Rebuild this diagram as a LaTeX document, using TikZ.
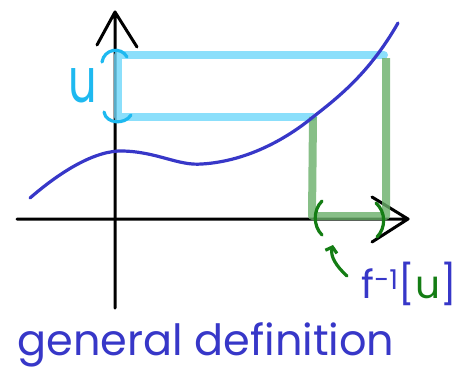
\documentclass[tikz,border=0pt]{standalone}
\usepackage{fontspec}
\setmainfont{Poppins}
\usetikzlibrary{arrows.meta}
\definecolor{penblue}{RGB}{55,55,200}
\definecolor{skyblue}{RGB}{30,185,240}
\definecolor{bandblue}{RGB}{110,215,250}
\definecolor{bandgreen}{RGB}{105,175,105}
\definecolor{inkgreen}{RGB}{20,125,20}

\begin{document}
\begin{tikzpicture}[x=1pt,y=-1pt,
  axis/.style={line width=3pt,line cap=round,line join=round},
  band/.style={line width=8pt,line join=round,opacity=0.8},
  ink/.style={line width=3.2pt,line cap=round}]
\useasboundingbox (0,0) rectangle (462,369);
% points
\coordinate (xstart) at (17,219);
\coordinate (xend) at (408,219);
\coordinate (ystart) at (115,308);
\coordinate (yend) at (115,12);
\coordinate (ulow) at (313,117);
\coordinate (uhigh) at (384,55);
% axes
\draw[axis] (xstart) -- (xend) (xend) -- ++(-36,-22) (xend) -- ++(-36,23);
\draw[axis] (ystart) -- (yend) (yend) -- ++(-18,33) (yend) -- ++(22,35);
% the set u and its preimage
\draw[band,bandblue,line cap=round] (uhigh) -- (118,55) -- (118,117) -- (ulow);
\draw[band,bandgreen] (ulow) -- (312,216) -- (386,216) -- (386,58);
% graph of f
\draw[ink,penblue] (30,198) .. controls (60,172) and (95,150) .. (123,151)
  .. controls (158,152) and (178,166) .. (202,164)
  .. controls (250,161) and (290,136) .. (ulow)
  .. controls (340,96) and (370,72) .. (398,23);
% brackets
\draw[ink,skyblue] (102,62) .. controls (104,49) and (121,46) .. (127,57);
\draw[ink,skyblue] (104,112) .. controls (106,124) and (125,125) .. (131,115);
\draw[ink,inkgreen] (322,201) .. controls (313,210) and (313,226) .. (322,235);
\draw[ink,inkgreen] (376,203) .. controls (386,212) and (386,228) .. (377,237);
% labels
\node[text=skyblue,font=\fontsize{62}{62}\selectfont] (ulabel) at (83,86) {\scalebox{0.72}[1]{u}};
\node[text=penblue,font=\fontsize{39}{39}\selectfont,anchor=west] (preimage) at (358,284)
  {f\textsuperscript{-1}[\textcolor{inkgreen}{u}]};
\coordinate (lparen) at (333,245);
\draw[ink,inkgreen,-{Straight Barb[length=5pt,width=12pt]}] (preimage.west) ++(-11,-8)
  .. controls (336,266) and (330,256) .. (lparen);
\node[text=penblue,font=\fontsize{43}{48}\selectfont,anchor=base west] (caption) at (14,355)
  {general definition};
\end{tikzpicture}
\end{document}
